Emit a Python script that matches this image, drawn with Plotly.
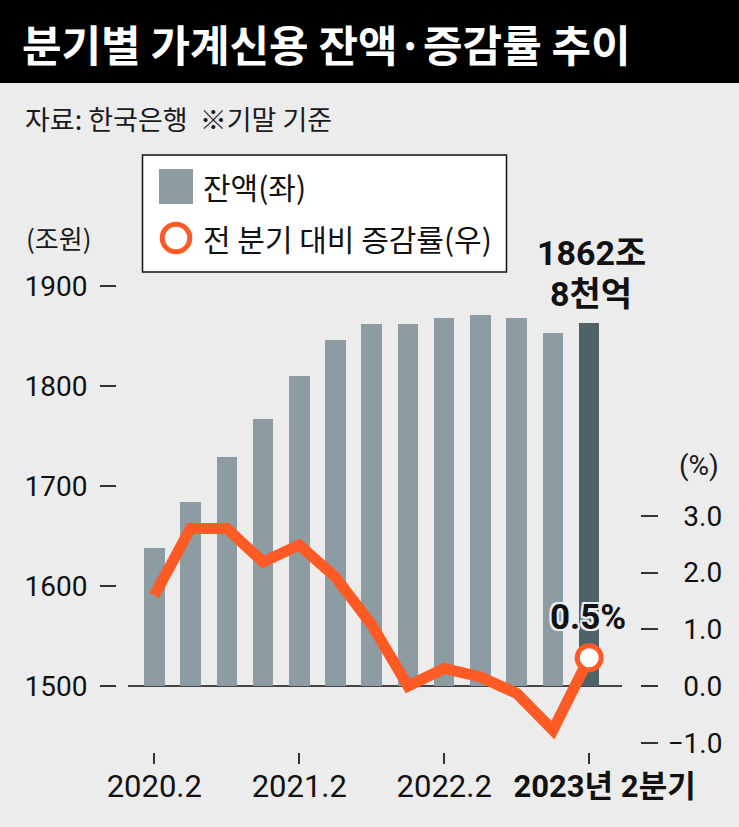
import plotly.graph_objects as go

# ---- data ----
quarters = ["2020.2", "2020.3", "2020.4", "2021.1", "2021.2", "2021.3", "2021.4",
            "2022.1", "2022.2", "2022.3", "2022.4", "2023.1", "2023.2"]
balance = [1638, 1684, 1729, 1767, 1810, 1846, 1862, 1862, 1868, 1871, 1868, 1853, 1862.8]
growth = [1.6, 2.78, 2.78, 2.19, 2.49, 1.92, 1.08, 0.0, 0.31, 0.16, -0.13, -0.78, 0.5]
x_tickvals = [0, 4, 8, 12]
x_ticktext = ["2020.2", "2021.2", "2022.2", "\u00a0\u00a0\u00a0\u00a0<b>2023년 2분기</b>"]
left_ticks = [1500, 1600, 1700, 1800, 1900]
right_ticks = [-1, 0, 1, 2, 3]
right_ticktext = ["\u22121.0", "\u20070.0", "\u20071.0", "\u20072.0", "\u20073.0"]
BASE = 1500

W, H = 739, 827
ML, MR, MT, MB = 100, 99, 150, 75
PW, PH = W - ML - MR, H - MT - MB

def px2x(px):
    return (px - ML) / PW

def px2y(py):
    return (H - MB - py) / PH

NUM = "Roboto, Noto Sans CJK KR, sans-serif"
KR = "Noto Sans CJK KR, sans-serif"
BAR = "#8c9ca2"
BAR_DARK = "#4d6368"
ORANGE = "#fd5a26"
BG = "#ececec"

xs = list(range(len(quarters)))
bar_colors = [BAR] * (len(quarters) - 1) + [BAR_DARK]

fig = go.Figure()
fig.add_trace(go.Bar(
    x=xs, y=[v - BASE for v in balance], base=BASE, width=0.566,
    marker=dict(color=bar_colors, line=dict(width=0)),
    yaxis="y", showlegend=False, hoverinfo="skip"))
fig.add_trace(go.Scatter(
    x=xs, y=growth, mode="lines", yaxis="y2",
    line=dict(color=ORANGE, width=11), showlegend=False))
fig.add_trace(go.Scatter(
    x=[xs[-1]], y=[growth[-1]], mode="markers", yaxis="y2",
    marker=dict(size=24, color="white", line=dict(color=ORANGE, width=5)),
    showlegend=False))

shapes = [
    # title band
    dict(type="rect", xref="paper", yref="paper", x0=px2x(0), x1=px2x(W),
         y0=px2y(83), y1=px2y(0), fillcolor="black", line=dict(width=0), layer="below"),
    # legend box
    dict(type="rect", xref="paper", yref="paper", x0=px2x(142.5), x1=px2x(506.5),
         y0=px2y(272), y1=px2y(155), fillcolor="white", line=dict(color="#111", width=1.5)),
    dict(type="rect", xref="paper", yref="paper", x0=px2x(159), x1=px2x(193),
         y0=px2y(204), y1=px2y(169), fillcolor=BAR, line=dict(width=0)),
    dict(type="circle", xref="paper", yref="paper", x0=px2x(176 - 13.8), x1=px2x(176 + 13.8),
         y0=px2y(238 + 13.8), y1=px2y(238 - 13.8), fillcolor="white",
         line=dict(color=ORANGE, width=5)),
]

halo = ", ".join(f"{dx}px {dy}px 0 {BG}" for dx, dy in
                 [(2, 0), (-2, 0), (0, 2), (0, -2), (2, 2), (-2, 2), (2, -2), (-2, -2)])

annotations = [
    dict(text="<b>분기별 가계신용 잔액·증감률 추이</b>", x=px2x(20), y=px2y(43),
         xanchor="left", yanchor="middle", font=dict(family=KR, size=43, color="white")),
    dict(text="자료: 한국은행  ※기말 기준", x=px2x(23), y=px2y(119),
         xanchor="left", yanchor="middle", font=dict(family=KR, size=27, color="#1a1a1a")),
    dict(text="(조원)", x=px2x(24), y=px2y(238), xanchor="left", yanchor="middle",
         font=dict(family=KR, size=26, color="#1a1a1a")),
    dict(text="(%)", x=px2x(721), y=px2y(465), xanchor="right", yanchor="middle",
         font=dict(family=NUM, size=28, color="#1a1a1a")),
    dict(text="잔액(좌)", x=px2x(201), y=px2y(186), xanchor="left", yanchor="middle",
         font=dict(family=KR, size=30, color="#111")),
    dict(text="전 분기 대비 증감률(우)", x=px2x(201), y=px2y(238), xanchor="left", yanchor="middle",
         font=dict(family=KR, size=30, color="#111")),
    dict(text="<b>1862조</b>", x=px2x(591), y=px2y(253), xanchor="center", yanchor="middle",
         font=dict(family=NUM, size=34, color="#111")),
    dict(text="<b>8천억</b>", x=px2x(591), y=px2y(294), xanchor="center", yanchor="middle",
         font=dict(family=NUM, size=34, color="#111")),
    dict(text="<b>0.5%</b>", x=px2x(588), y=px2y(617), xanchor="center", yanchor="middle",
         font=dict(family=NUM, size=35, color="#111", shadow=halo)),
]
for a in annotations:
    a.update(xref="paper", yref="paper", showarrow=False)

fig.update_layout(
    width=W, height=H,
    margin=dict(l=ML, r=MR, t=MT, b=MB, pad=0, autoexpand=False),
    paper_bgcolor=BG, plot_bgcolor=BG,
    showlegend=False,
    bargap=0,
    xaxis=dict(
        domain=[px2x(128), px2x(622)], range=[-0.7257, 12.905],
        tickmode="array", tickvals=x_tickvals, ticktext=x_ticktext, tickangle=0,
        ticks="outside", ticklen=11, tickwidth=1.5, tickcolor="#333",
        showline=False, showgrid=False, zeroline=False, automargin=False,
        tickfont=dict(family=NUM, size=31, color="#111"), ticklabelstandoff=-4,
        fixedrange=True),
    yaxis=dict(
        anchor="free", position=px2x(116), side="left", automargin=False,
        range=[1434, 2036], tickmode="array", tickvals=left_ticks,
        ticks="outside", ticklen=16, tickwidth=1.5, tickcolor="#333",
        showline=False, showgrid=False, zeroline=False,
        tickfont=dict(family=NUM, size=28, color="#111"), ticklabelstandoff=7),
    yaxis2=dict(
        overlaying="y", anchor="free", position=px2x(640), side="right", automargin=False,
        range=[-1.1643, 9.4587], tickmode="array", tickvals=right_ticks,
        ticktext=right_ticktext,
        ticks="outside", ticklen=17, tickwidth=1.5, tickcolor="#333",
        showline=False, showgrid=False,
        zeroline=True, zerolinecolor="#444", zerolinewidth=2,
        tickfont=dict(family=NUM, size=28, color="#111"), ticklabelstandoff=4),
    shapes=shapes,
    annotations=annotations,
)

fig.write_html("out.html", config={"displayModeBar": False},
               post_script="document.body.style.margin='0';")
